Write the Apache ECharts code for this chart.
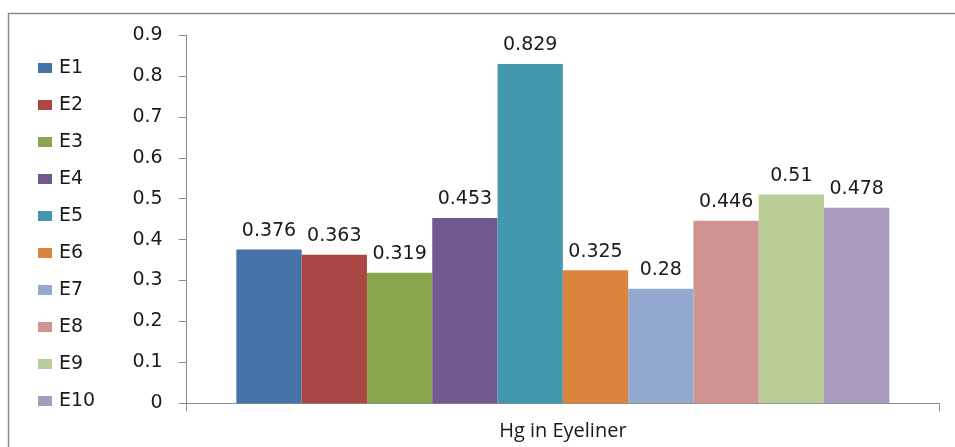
<!DOCTYPE html>
<html>
<head>
<meta charset="utf-8">
<script src="https://cdn.jsdelivr.net/npm/echarts@6/dist/echarts.min.js"></script>
<style>
  html, body { margin: 0; padding: 0; background: #fff; }
  #chart { width: 955px; height: 447px; }
</style>
</head>
<body>
<div id="chart"></div>
<script>
// Mercury content measured in ten eyeliner samples
const categories = ['Hg in Eyeliner'];
const sampleNames = ['E1', 'E2', 'E3', 'E4', 'E5', 'E6', 'E7', 'E8', 'E9', 'E10'];
const hgValues = [0.376, 0.363, 0.319, 0.453, 0.829, 0.325, 0.28, 0.446, 0.51, 0.478];
const yTicks = { min: 0, max: 0.9, interval: 0.1 };

const palette = ['#4572A7', '#AA4643', '#89A54E', '#71588F', '#4198AF',
                 '#DB843D', '#93A9CF', '#D19392', '#B9CD96', '#A99BBD'];

const textFont = 'DejaVu Sans';
const axisGray = '#8c8c8c';

const series = sampleNames.map((name, i) => ({
  name: name,
  type: 'bar',
  data: [hgValues[i]],
  barGap: '0%',
  barCategoryGap: '13.2%',
  itemStyle: { color: palette[i] },
  label: {
    show: true,
    position: 'top',
    distance: 9,
    color: '#1a1a1a',
    fontFamily: textFont,
    fontSize: 19,
    formatter: p => String(p.value)
  }
}));

const chart = echarts.init(document.getElementById('chart'), null, { renderer: 'canvas' });
chart.setOption({
  animation: false,
  backgroundColor: '#ffffff',
  color: palette,
  graphic: [{
    type: 'rect',
    shape: { x: 8.5, y: 13.5, width: 1200, height: 1200 },
    style: { fill: 'none', stroke: '#8a8a8a', lineWidth: 1.5 },
    silent: true
  }],
  legend: {
    orient: 'vertical',
    left: 38,
    top: 58,
    padding: 0,
    itemWidth: 14,
    itemHeight: 10,
    itemGap: 17,
    icon: 'rect',
    data: sampleNames,
    textStyle: {
      color: '#1a1a1a',
      fontFamily: textFont,
      fontSize: 19,
      lineHeight: 20,
      padding: [0, 0, 0, 2]
    }
  },
  grid: {
    left: 186.7,
    right: 16,
    top: 35,
    bottom: 43.7,
    containLabel: false
  },
  xAxis: {
    type: 'category',
    data: categories,
    axisLine: { show: true, lineStyle: { color: axisGray, width: 1 } },
    axisTick: { show: true, length: 8, lineStyle: { color: axisGray } },
    axisLabel: {
      margin: 18,
      color: '#1a1a1a',
      fontFamily: 'Open Sans',
      fontSize: 20
    },
    splitLine: { show: false }
  },
  yAxis: {
    type: 'value',
    min: yTicks.min,
    max: yTicks.max,
    interval: yTicks.interval,
    axisLine: { show: true, lineStyle: { color: axisGray, width: 1 } },
    axisTick: { show: true, length: 8, lineStyle: { color: axisGray } },
    axisLabel: {
      margin: 24,
      color: '#1a1a1a',
      fontFamily: textFont,
      fontSize: 19,
      formatter: v => String(Math.round(v * 10) / 10)
    },
    splitLine: { show: false }
  },
  series: series
});
</script>
</body>
</html>
